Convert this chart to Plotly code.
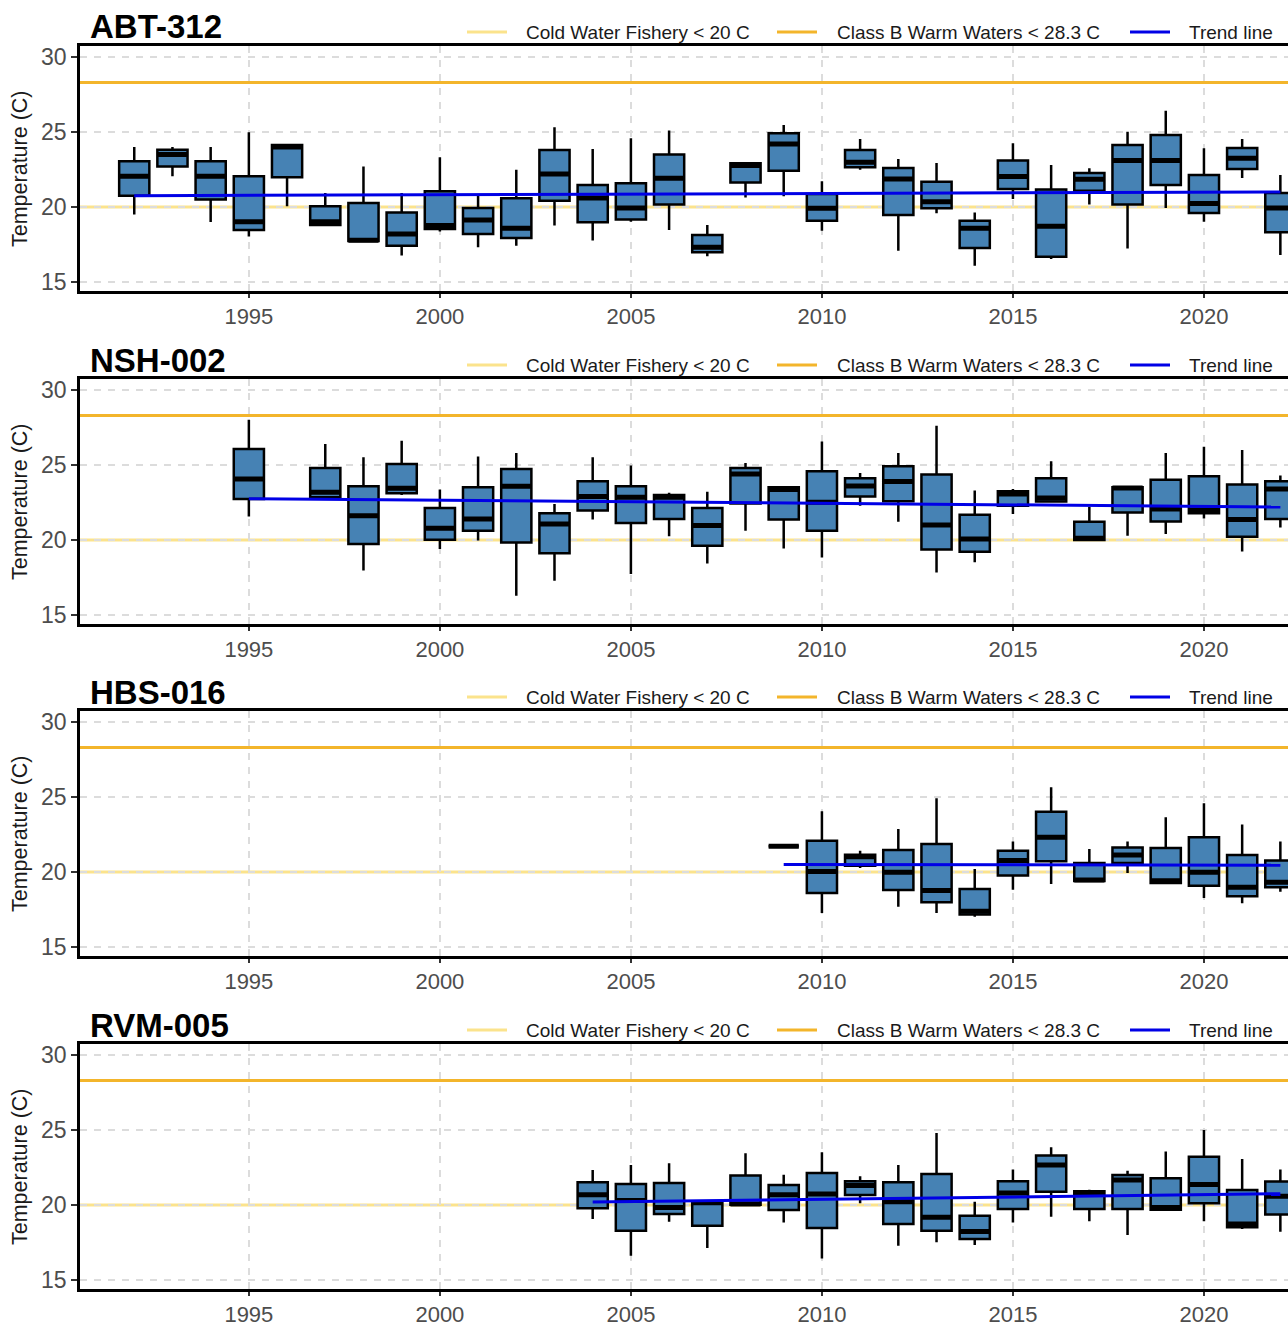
import plotly.graph_objects as go
from plotly.subplots import make_subplots

# ---------------- data ----------------
STATIONS = ["ABT-312", "NSH-002", "HBS-016", "RVM-005"]
COLD_WATER = 20.0
CLASS_B = 28.3
X_TICKS = [1995, 2000, 2005, 2010, 2015, 2020]
Y_TICKS = [15, 20, 25, 30]

abt_years = list(range(1992, 2023))
abt_low = [19.5, 22.05, 19.0, 18.04, 20.05, 18.75, 17.73, 16.76, 18.36, 17.31, 17.42, 18.76, 17.76, 19.02, 18.47, 16.71,
           20.64, 20.71, 18.42, 22.49, 17.09, 19.58, 16.09, 20.53, 16.53, 20.16, 17.24, 19.93, 19.02, 21.93, 16.8]
abt_q1 = [20.75, 22.7, 20.5, 18.47, 21.98, 18.8, 17.73, 17.42, 18.53, 18.2, 17.93, 20.42, 18.98, 19.16, 20.16, 16.98,
          21.64, 22.42, 19.09, 22.64, 19.47, 19.91, 17.27, 21.2, 16.69, 21.09, 20.16, 21.47, 19.6, 22.53, 18.31]
abt_med = [22.05, 23.5, 22.05, 19.02, 24.0, 19.02, 17.78, 18.2, 18.76, 19.13, 18.58, 22.2, 20.6, 19.93, 21.91, 17.31,
           22.76, 24.2, 19.91, 22.98, 21.87, 20.35, 18.58, 22.04, 18.71, 21.85, 23.09, 23.09, 20.24, 23.24, 19.93]
abt_q3 = [23.05, 23.82, 23.05, 22.05, 24.13, 20.05, 20.27, 19.64, 21.05, 19.93, 20.58, 23.8, 21.47, 21.58, 23.49, 18.13,
          22.91, 24.91, 20.87, 23.8, 22.6, 21.69, 19.09, 23.09, 21.16, 22.27, 24.13, 24.8, 22.13, 23.93, 20.93]
abt_high = [24.0, 24.0, 24.0, 24.98, 24.13, 20.93, 22.69, 20.93, 23.31, 20.76, 22.49, 25.31, 23.87, 24.58, 25.09, 18.8,
            22.91, 25.47, 21.71, 24.53, 23.2, 22.93, 19.64, 24.24, 22.8, 22.58, 25.02, 26.42, 23.91, 24.53, 22.13]
abt_trend_years = [1992, 2022]
abt_trend_vals = [20.75, 21.0]

nsh_years = [1995] + list(range(1997, 2023))
nsh_low = [21.56, 22.8, 17.96, 23.0, 19.4, 19.96, 16.29, 17.29, 21.36, 17.73, 20.25, 18.44, 20.62, 19.44, 18.84, 22.29,
           21.22, 17.84, 18.51, 21.73, 22.5, 20.0, 20.29, 20.4, 21.44, 19.24, 20.84]
nsh_q1 = [22.73, 22.84, 19.73, 23.11, 20.02, 20.62, 19.84, 19.11, 21.96, 21.13, 21.4, 19.62, 22.44, 21.36, 20.62, 22.89,
          22.58, 19.36, 19.22, 22.29, 22.56, 20.0, 21.84, 21.24, 21.78, 20.22, 21.4]
nsh_med = [24.07, 23.18, 21.62, 23.44, 20.78, 21.4, 23.58, 21.07, 22.89, 22.84, 22.85, 20.96, 24.4, 23.36, 22.51, 23.6,
           23.89, 21.0, 20.07, 23.07, 22.8, 20.11, 23.47, 22.07, 22.0, 21.36, 23.4]
nsh_q3 = [26.07, 24.8, 23.58, 25.07, 22.13, 23.51, 24.73, 21.78, 23.91, 23.58, 23.0, 22.13, 24.8, 23.51, 24.58, 24.11,
          24.91, 24.36, 21.69, 23.24, 24.11, 21.22, 23.51, 24.02, 24.25, 23.69, 23.91]
nsh_high = [28.02, 26.4, 25.51, 26.62, 23.36, 25.56, 25.8, 22.4, 25.51, 24.96, 23.15, 23.22, 25.13, 23.55, 26.56, 24.47,
            25.8, 27.62, 23.29, 23.4, 25.24, 22.22, 23.51, 25.8, 26.22, 26.0, 24.29]
nsh_trend_years = [1995, 2022]
nsh_trend_vals = [22.75, 22.2]

hbs_years = list(range(2009, 2023))
hbs_low = [21.71, 17.27, 20.27, 17.69, 17.27, 17.02, 18.82, 19.2, 19.4, 19.93, 19.27, 18.27, 17.91, 18.69]
hbs_q1 = [21.71, 18.6, 20.42, 18.8, 17.98, 17.16, 19.76, 20.71, 19.4, 20.6, 19.27, 19.09, 18.38, 18.98]
hbs_med = [21.71, 20.04, 21.02, 19.98, 18.76, 17.38, 20.76, 22.31, 19.47, 21.13, 19.42, 19.98, 18.98, 19.31]
hbs_q3 = [21.71, 22.09, 21.15, 21.47, 21.87, 18.87, 21.42, 24.02, 20.6, 21.64, 21.6, 22.31, 21.13, 20.76]
hbs_high = [21.71, 24.04, 21.42, 22.87, 24.91, 20.2, 22.04, 25.64, 21.53, 22.04, 23.64, 24.58, 23.16, 22.04]
hbs_trend_years = [2009, 2022]
hbs_trend_vals = [20.5, 20.45]

rvm_years = list(range(2004, 2023))
rvm_low = [19.07, 16.62, 18.89, 17.13, 20.0, 18.84, 16.44, 20.11, 17.29, 17.51, 17.33, 18.84, 19.22, 18.91, 18.0, 19.69,
           18.91, 18.4, 18.22]
rvm_q1 = [19.78, 18.29, 19.4, 18.62, 20.02, 19.67, 18.47, 20.67, 18.73, 18.29, 17.73, 19.73, 20.89, 19.73, 19.73, 19.69,
          20.11, 18.51, 19.36]
rvm_med = [20.69, 20.3, 19.84, 20.15, 20.07, 20.69, 20.73, 21.3, 20.22, 19.18, 18.24, 20.8, 22.67, 20.8, 21.67, 19.84,
           21.36, 18.73, 20.58]
rvm_q3 = [21.51, 21.4, 21.47, 20.2, 21.96, 21.33, 22.13, 21.58, 21.51, 22.07, 19.29, 21.58, 23.29, 20.91, 22.0, 21.78,
          23.22, 21.0, 21.56]
rvm_high = [22.33, 22.67, 22.78, 20.2, 23.44, 22.02, 23.51, 21.91, 22.67, 24.8, 20.22, 22.36, 23.84, 21.02, 22.29, 23.56,
            25.0, 23.07, 22.36]
rvm_trend_years = [2004, 2022]
rvm_trend_vals = [20.2, 20.75]

panels = [
    (abt_years, abt_low, abt_q1, abt_med, abt_q3, abt_high, abt_trend_years, abt_trend_vals),
    (nsh_years, nsh_low, nsh_q1, nsh_med, nsh_q3, nsh_high, nsh_trend_years, nsh_trend_vals),
    (hbs_years, hbs_low, hbs_q1, hbs_med, hbs_q3, hbs_high, hbs_trend_years, hbs_trend_vals),
    (rvm_years, rvm_low, rvm_q1, rvm_med, rvm_q3, rvm_high, rvm_trend_years, rvm_trend_vals),
]

# ---------------- styling / layout ----------------
W, H = 1288, 1327
LEFT = 80
PLOT_W = W - LEFT
PANEL_TOPS = [46, 379, 711, 1044]
PANEL_H = 245
X_RANGE = [1990.58, 2022.2]
Y_RANGE = [14.4, 30.73]
FONT = "Liberation Sans, Arial, Helvetica, sans-serif"
BOX_FILL = "#4682B4"
COLD_COLOR = "#FBE38C"
WARM_COLOR = "#F3B52B"
TREND_COLOR = "#0000E6"
GRID_COLOR = "#DCDCDC"


def px_x(px):
    return (px - LEFT) / PLOT_W


def px_y(py):
    return 1 - py / H


fig = make_subplots(rows=4, cols=1)

for i, (years, lo, q1, med, q3, hi, ty, tv) in enumerate(panels):
    row = i + 1
    sfx = "" if row == 1 else str(row)

    # threshold reference lines (drawn under the boxes)
    for val, col in [(COLD_WATER, COLD_COLOR), (CLASS_B, WARM_COLOR)]:
        fig.add_shape(type="line", xref=f"x{sfx} domain", yref=f"y{sfx}", x0=0, x1=1, y0=val, y1=val,
                      line=dict(color=col, width=3), layer="below")

    fig.add_trace(go.Box(x=years, lowerfence=lo, q1=q1, median=med, q3=q3, upperfence=hi,
                         width=0.79, fillcolor=BOX_FILL, line=dict(color="black", width=2.5),
                         whiskerwidth=0, boxpoints=False, showlegend=False, hoverinfo="skip"),
                  row=row, col=1)
    # thicker median bar (ggplot style)
    fig.add_trace(go.Box(x=years, lowerfence=med, q1=med, median=med, q3=med, upperfence=med,
                         width=0.79, fillcolor="rgba(0,0,0,0)", line=dict(color="black", width=5),
                         whiskerwidth=0, boxpoints=False, showlegend=False, hoverinfo="skip"),
                  row=row, col=1)
    fig.add_trace(go.Scatter(x=ty, y=tv, mode="lines", line=dict(color=TREND_COLOR, width=3),
                             showlegend=False, hoverinfo="skip"), row=row, col=1)

    top = PANEL_TOPS[i]
    dom = [1 - (top + PANEL_H) / H, 1 - top / H]
    axis_common = dict(showgrid=True, gridcolor=GRID_COLOR, griddash="7px,7px", gridwidth=1.5,
                       zeroline=False, showline=True, linecolor="black", linewidth=2.5,
                       ticks="outside", tickwidth=1.5, tickcolor="#333333", automargin=False)
    fig.update_layout(**{
        f"xaxis{sfx}": dict(range=X_RANGE, tickvals=X_TICKS, mirror=True, ticklen=4, domain=[0, 1],
                            tickfont=dict(family=FONT, size=22, color="#4D4D4D"), **axis_common),
        f"yaxis{sfx}": dict(range=Y_RANGE, tickvals=Y_TICKS, mirror=False, ticklen=6, domain=dom,
                            tickfont=dict(family=FONT, size=23, color="#4D4D4D"), **axis_common),
    })

    # panel title
    fig.add_annotation(text=f"<b>{STATIONS[i]}</b>", xref="paper", yref="paper", x=px_x(88), y=px_y(top - 19),
                       xanchor="left", yanchor="middle", showarrow=False,
                       font=dict(family=FONT, size=33, color="black"))
    # y axis title
    fig.add_annotation(text="Temperature (C)", xref="paper", yref="paper", x=px_x(20), y=px_y(top + 123),
                       xanchor="center", yanchor="middle", textangle=-90, showarrow=False,
                       font=dict(family=FONT, size=21.5, color="#1A1A1A"))
    # legend
    ly = px_y(top - 14)
    for (x0, x1, tx, label, col) in [(467, 507, 524, "Cold Water Fishery < 20 C", COLD_COLOR),
                                     (777, 817, 835, "Class B Warm Waters < 28.3 C", WARM_COLOR),
                                     (1130, 1170, 1187, "Trend line", TREND_COLOR)]:
        fig.add_shape(type="line", xref="paper", yref="paper", x0=px_x(x0), x1=px_x(x1), y0=ly, y1=ly,
                      line=dict(color=col, width=3))
        fig.add_annotation(text=label, xref="paper", yref="paper", x=px_x(tx), y=ly, xanchor="left",
                           yanchor="middle", showarrow=False, font=dict(family=FONT, size=19, color="#1A1A1A"))

fig.update_layout(width=W, height=H, margin=dict(l=LEFT, r=0, t=0, b=0), template="none",
                  paper_bgcolor="white", plot_bgcolor="white", boxmode="overlay", showlegend=False)

fig.write_html("out.html")
